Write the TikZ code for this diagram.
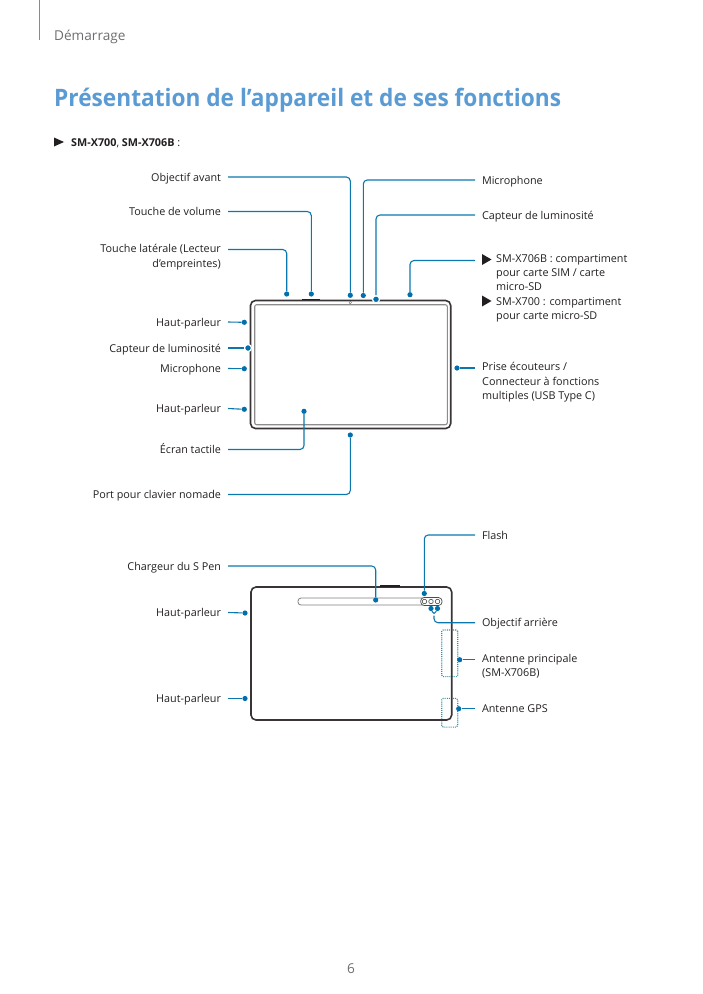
\documentclass[tikz,border=0pt]{standalone}
\usepackage{fontspec}
\setmainfont{Open Sans}
\newfontfamily\titlefont[FakeStretch=0.945]{Open Sans}
\usepackage{xcolor}
\usetikzlibrary{positioning}
\definecolor{leader}{HTML}{0A78AD}
\definecolor{dotblue}{HTML}{006FAB}
\definecolor{titleblue}{HTML}{5B9BD3}
\definecolor{ink}{HTML}{231F20}
\definecolor{muted}{HTML}{6D6E71}
\definecolor{antenna}{HTML}{2F8FA3}

\begin{document}
\begin{tikzpicture}[
  x=1pt, y=-1pt,
  lbl/.style    = {font=\fontsize{10.8}{14.4}\selectfont, color=ink, inner sep=0pt, text height=9pt, text depth=1pt},
  lbll/.style   = {lbl, anchor=east, outer sep=7pt},
  lblr/.style   = {lbl, anchor=west, outer sep=7pt},
  para/.style   = {font=\fontsize{10.8}{14.4}\selectfont, color=ink, inner sep=0pt, align=left, anchor=north west},
  dot/.style    = {circle, fill=dotblue, inner sep=0pt, minimum size=5.2pt},
  halo/.style   = {dot, draw=white, line width=1.2pt, minimum size=7pt},
  lead/.style   = {color=leader, line width=1.1pt, rounded corners=4pt},
  body/.style   = {draw=ink!90, line width=1.6pt, rounded corners=5pt},
  glass/.style  = {draw=black!45, line width=1.1pt, rounded corners=2pt},
  ant/.style    = {draw=antenna, line width=1.1pt, dash pattern=on 1pt off 1.1pt, rounded corners=1.5pt},
]
\useasboundingbox (0,0) rectangle (703,994);

% running head
\draw[color=muted!80, line width=0.8pt] (39.5,0) -- (39.5,40);
\node[font=\fontsize{13.6}{16}\selectfont, color=muted, anchor=west, inner sep=0pt] (head) at (54,37) {Démarrage};
\node[font=\titlefont\fontsize{24}{30}\selectfont\bfseries, color=titleblue, anchor=west, inner sep=0pt] (title) at (54,100.5) {Présentation de l’appareil et de ses fonctions};
\fill[ink] (54,137.5) -- (64,142) -- (54,146.5) -- cycle;
\node[font=\fontsize{10.8}{14}\selectfont, color=ink, anchor=west, inner sep=0pt] (model) at (71,143.5) {\textbf{SM-X700}, \textbf{SM-X706B} :};
\node[font=\fontsize{13.6}{16}\selectfont, color=muted, inner sep=0pt] (page) at (351,968.5) {6};

% front view
\draw[body] (250.5,300.5) rectangle (450.7,428.5);
\draw[glass] (254.7,304.7) rectangle (447.3,424.7);
\draw[ink, line width=1.5pt] (302,299.6) -- (320,299.6);
\node[draw=black!60, circle, inner sep=0pt, minimum size=2.5pt, line width=0.4pt] (cam) at (350.3,302.6) {};

\node[lbll] (objectif) at (228,177) {Objectif avant};
\node[lbll] (volume) at (228,211.5) {Touche de volume};
\node[para, anchor=north east, align=right] (lateral) at (221,244.5) {Touche latérale (Lecteur\\d’empreintes)};
\coordinate (lateralend) at (228,249.5);
\node[lbll] (hp1) at (228,322) {Haut-parleur};
\node[lbll] (capt2) at (228,348) {Capteur de luminosité};
\node[lbll] (mic2) at (228,368.5) {Microphone};
\node[lbll] (hp2) at (228,408.5) {Haut-parleur};
\node[lbll] (ecran) at (228,449.5) {Écran tactile};
\node[lbll] (port) at (228,494.5) {Port pour clavier nomade};
\node[lblr] (mic1) at (475,180) {Microphone};
\node[lblr] (capt1) at (475,215) {Capteur de luminosité};
\node[para] (sim1) at (496,254) {SM-X706B : compartiment\\pour carte SIM / carte\\micro-SD};
\node[para] (sim2) at (496,297) {SM-X700 : compartiment\\pour carte micro-SD};
\coordinate (simend) at (475,260.5);
\fill[ink] (482,254) -- (491.5,259.5) -- (482,265) -- cycle;
\fill[ink] (482,295.5) -- (491.5,301) -- (482,306.5) -- cycle;
\node[para] (prise) at (482,362.5) {Prise écouteurs /\\Connecteur à fonctions\\multiples (USB Type C)};
\coordinate (priseend) at (475,368);

\node[dot] (dlateral) at (286.7,294) {};
\node[dot] (dvolume) at (311.3,294) {};
\node[dot] (dobjectif) at (350.3,295.3) {};
\node[dot] (dmic1) at (363.3,295.5) {};
\node[halo] (dcapt1) at (376,299.3) {};
\node[dot] (dsim) at (410,294.7) {};
\node[dot] (dhp1) at (244.3,322.3) {};
\node[halo] (dcapt2) at (248,348) {};
\node[dot] (dmic2) at (244.3,368.7) {};
\node[dot] (dhp2) at (244.3,409.3) {};
\node[dot] (dprise) at (457,368) {};
\node[dot] (decran) at (304,411.3) {};
\node[dot] (dport) at (350.3,435) {};

\draw[lead] (objectif.east) -| (dobjectif);
\draw[lead] (volume.east) -| (dvolume);
\draw[lead] (lateralend) -| (dlateral);
\draw[lead] (mic1.west) -| (dmic1);
\draw[lead] (capt1.west) -| (dcapt1);
\draw[lead] (simend) -| (dsim);
\draw[lead] (hp1.east) -- (dhp1);
\draw[lead] (capt2.east) -- (dcapt2);
\draw[lead] (mic2.east) -- (dmic2);
\draw[lead] (hp2.east) -- (dhp2);
\draw[lead] (priseend) -- (dprise);
\draw[lead] (ecran.east) -| (decran);
\draw[lead] (port.east) -| (dport);

% back view
\node[ant, minimum width=16pt, minimum height=46.7pt, inner sep=0pt] (antmain) at (449.7,653.3) {};
\node[ant, minimum width=16pt, minimum height=28.7pt, inner sep=0pt] (antgps) at (449.7,712.7) {};
\draw[body] (251,587) rectangle (451.7,720);
\draw[ink, line width=1.5pt] (380,586) -- (400,586);
\draw[draw=black!50, line width=0.8pt, rounded corners=3pt] (298,598) rectangle (441.5,605);
\draw[draw=black!70, fill=white, line width=0.7pt, rounded corners=3.5pt] (420.7,597.5) rectangle (442,605.5);
\foreach \cx/\cname in {424.5/flashlens, 431/lensa, 437.5/lensb}
  \node[draw=black!70, circle, inner sep=0pt, minimum size=4.5pt, line width=0.6pt] (\cname) at (\cx,601.5) {};

\node[lbll] (chargeur) at (228,566) {Chargeur du S Pen};
\node[lbll] (hp3) at (228,612.5) {Haut-parleur};
\node[lbll] (hp4) at (228,698.5) {Haut-parleur};
\node[lblr] (flash) at (475,535) {Flash};
\node[lblr] (arriere) at (475,622.7) {Objectif arrière};
\node[para] (principale) at (482,654) {Antenne principale\\(SM-X706B)};
\node[lblr] (gps) at (475,708.7) {Antenne GPS};
\coordinate (principaleend) at (475,659.7);
\coordinate (fork) at (434,615.5);

\node[dot] (dchargeur) at (375.7,600) {};
\node[dot] (dhp3) at (245,613) {};
\node[dot] (dhp4) at (245,698.5) {};
\node[dot] (dflash) at (424.3,593.5) {};
\node[dot] (dlensa) at (431,608.5) {};
\node[dot] (dlensb) at (437.5,608.5) {};
\node[dot] (dprincipale) at (459.7,659.7) {};
\node[dot] (dgps) at (458.7,708.7) {};

\draw[lead] (chargeur.east) -| (dchargeur);
\draw[lead] (hp3.east) -- (dhp3);
\draw[lead] (hp4.east) -- (dhp4);
\draw[lead] (flash.west) -| (dflash);
\draw[lead] (arriere.west) -| (fork);
\draw[lead] (dlensa) -- (fork) -- (dlensb);
\draw[lead] (principaleend) -- (dprincipale);
\draw[lead] (gps.west) -- (dgps);
\end{tikzpicture}
\end{document}
